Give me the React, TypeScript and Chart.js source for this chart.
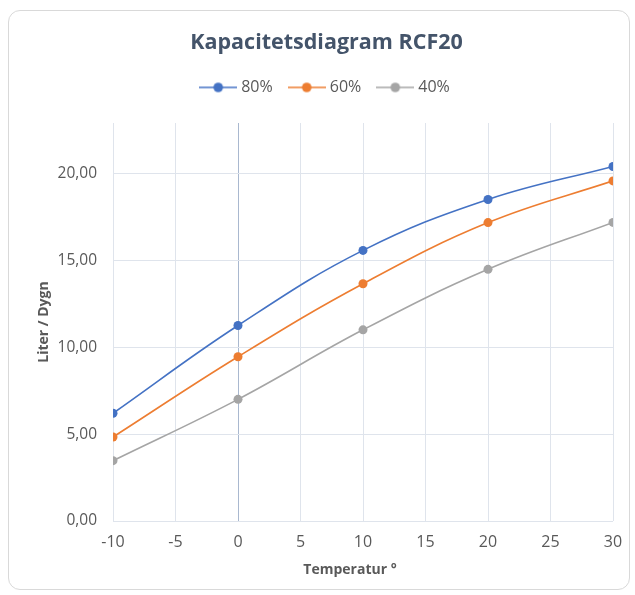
import React, { useEffect, useRef } from "react";
import { Chart, registerables } from "chart.js";

Chart.register(...registerables);

const temperatures = [-10, 0, 10, 20, 30];
const series80 = [6.2, 11.25, 15.57, 18.5, 20.4];
const series60 = [4.83, 9.45, 13.65, 17.17, 19.57];
const series40 = [3.47, 7.0, 11.0, 14.48, 17.18];
const seriesLabels = ["80%", "60%", "40%"];
const seriesColors = ["#4472C4", "#ED7D31", "#A5A5A5"];
const yTicks = [0, 5, 10, 15, 20];

const FONT = "'Open Sans', sans-serif";

function legendIcon(color: string): HTMLCanvasElement {
  const c = document.createElement("canvas");
  c.width = 38;
  c.height = 12;
  const g = c.getContext("2d")!;
  g.strokeStyle = color;
  g.lineWidth = 1.5;
  g.beginPath();
  g.moveTo(0, 6);
  g.lineTo(38, 6);
  g.stroke();
  g.fillStyle = color;
  g.beginPath();
  g.arc(19, 6, 4.8, 0, Math.PI * 2);
  g.fill();
  return c;
}

function shiftDraw(box: any, dx: number, dy: number) {
  if (!box) return;
  const od = box.draw;
  box.draw = function (...args: any[]) {
    const ctx = this.ctx;
    ctx.save();
    ctx.translate(dx, dy);
    od.apply(this, args);
    ctx.restore();
  };
}

const headerTweaks = {
  id: "headerTweaks",
  afterInit(chart: any) {
    const l = chart.legend;
    if (l) {
      const orig = l.fit;
      l.fit = function () {
        orig.call(this);
        this.height = 64.6;
      };
      shiftDraw(l, 10, 2);
    }
    shiftDraw(chart.titleBlock, 10, 2);
  },
  afterLayout(chart: any) {
    const xs = chart.scales.x;
    if (xs && !xs.__shifted) {
      const proto = Object.getPrototypeOf(xs).drawTitle;
      xs.drawTitle = function () {
        const ctx = this.ctx;
        ctx.save();
        ctx.translate(-13, 0);
        proto.call(this);
        ctx.restore();
      };
      xs.__shifted = true;
    }
  },
};

export default function App() {
  const ref = useRef<HTMLCanvasElement | null>(null);
  useEffect(() => {
    if (!ref.current) return;
    const all = [series80, series60, series40];
    const icons = seriesColors.map(legendIcon);
    const chart = new Chart(ref.current, {
      type: "line",
      plugins: [headerTweaks],
      data: {
        datasets: all.map((s, i) => ({
          label: seriesLabels[i],
          data: s.map((y, j) => ({ x: temperatures[j], y })),
          borderColor: seriesColors[i],
          backgroundColor: seriesColors[i],
          borderWidth: 1.6,
          pointRadius: 4.5,
          pointHoverRadius: 4.5,
          pointBorderWidth: 0,
          tension: 0.4,
        })),
      },
      options: {
        animation: false,
        responsive: false,
        maintainAspectRatio: false,
        layout: { padding: { top: 10, left: 20, right: 22, bottom: 16.6 } },
        plugins: {
          title: {
            display: true,
            text: "Kapacitetsdiagram RCF20",
            color: "#44546A",
            font: { family: FONT, size: 21.5, weight: "bold" },
            padding: { top: 18, bottom: 4.6 },
          },
          legend: {
            position: "top",
            labels: {
              usePointStyle: true,
              pointStyleWidth: 30,
              padding: 19,
              color: "#595959",
              font: { family: FONT, size: 16 },
              generateLabels: (ch: any) => {
                const items = Chart.defaults.plugins.legend.labels.generateLabels(ch);
                return items.map((it: any, i: number) => ({ ...it, pointStyle: icons[i] }));
              },
            },
          },
          tooltip: { enabled: false },
        },
        scales: {
          x: {
            type: "linear",
            min: -10,
            max: 30,
            afterFit: (scale: any) => {
              scale.height = 57.4;
            },
            ticks: {
              stepSize: 5,
              color: "#595959",
              padding: 11.4,
              font: { family: FONT, size: 16 },
            },
            grid: {
              drawTicks: false,
              color: (ctx: any) => (ctx.tick && ctx.tick.value === 0 ? "#a9b8cf" : "#dfe4ec"),
              lineWidth: 1,
            },
            border: { display: false },
            title: {
              display: true,
              text: "Temperatur °",
              color: "#595959",
              font: { family: FONT, size: 14, weight: "bold" },
              padding: { top: 0, bottom: 0 },
            },
          },
          y: {
            type: "linear",
            min: 0,
            max: 22.9,
            afterBuildTicks: (scale: any) => {
              scale.ticks = yTicks.map((v) => ({ value: v }));
            },
            afterFit: (scale: any) => {
              scale.width = 93;
            },
            ticks: {
              color: "#595959",
              padding: 16,
              font: { family: FONT, size: 15.5 },
              callback: (v: any) => Number(v).toFixed(2).replace(".", ","),
            },
            grid: { drawTicks: false, color: "#dfe4ec", lineWidth: 1 },
            border: { display: false },
            title: {
              display: true,
              text: "Liter / Dygn",
              color: "#595959",
              font: { family: FONT, size: 14, weight: "bold" },
              padding: { top: 15.6, bottom: 0 },
            },
          },
        },
      },
    });
    return () => chart.destroy();
  }, []);
  return (
    <div style={{ position: "absolute", left: 0, top: 0, width: 635, height: 595, background: "#fff" }}>
      <div
        style={{
          position: "absolute",
          left: 8,
          top: 10,
          width: 622,
          height: 580,
          border: "1px solid #d9d9d9",
          borderRadius: 12,
          boxSizing: "border-box",
        }}
      />
      <canvas ref={ref} width={635} height={595} style={{ position: "absolute", left: 0, top: 0, width: 635, height: 595 }} />
    </div>
  );
}
